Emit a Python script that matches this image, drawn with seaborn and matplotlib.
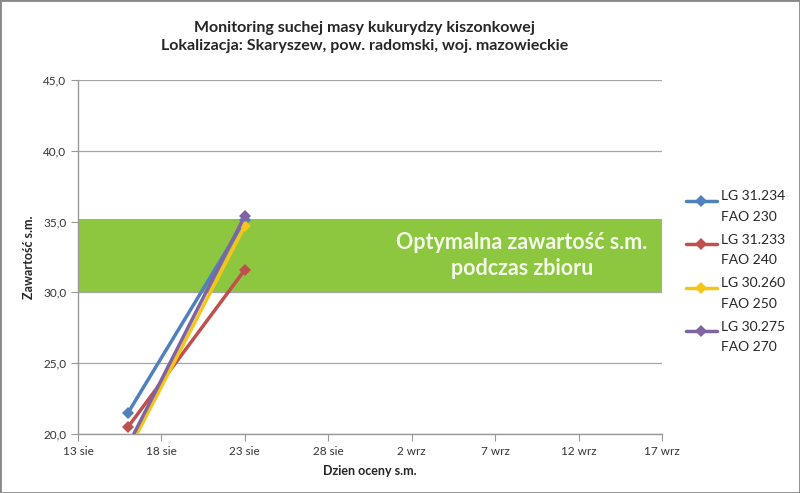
import matplotlib.pyplot as plt
import matplotlib as mpl
import numpy as np
import seaborn as sns
import pandas as pd

sns.set_style("white")
plt.rcParams['font.family'] = ['Lato', 'DejaVu Sans']

# dane
dates = ['2013-08-16', '2013-08-23']
lg_31234 = [21.5, 35.1]
lg_31233 = [20.5, 31.6]
lg_30260 = [18.8, 34.7]
lg_30275 = [19.2, 35.4]
names = ['LG 31.234\nFAO 230', 'LG 31.233\nFAO 240', 'LG 30.260\nFAO 250', 'LG 30.275\nFAO 270']
colors = ['#4F81BD', '#C0504D', '#F5C518', '#8064A2']

tick_dates = ['2013-08-13', '2013-08-18', '2013-08-23', '2013-08-28',
              '2013-09-02', '2013-09-07', '2013-09-12', '2013-09-17']
tick_labels = ['13 sie', '18 sie', '23 sie', '28 sie', '2 wrz', '7 wrz', '12 wrz', '17 wrz']
y_ticks = [20.0, 25.0, 30.0, 35.0, 40.0, 45.0]
band = [30.0, 35.2]

rows = []
for name, vals in zip(names, [lg_31234, lg_31233, lg_30260, lg_30275]):
    for d, v in zip(dates, vals):
        rows.append([pd.Timestamp(d), v, name])
df = pd.DataFrame(rows, columns=['Data', 'Zawartosc', 'Odmiana'])

fig = plt.figure(figsize=(8, 4.93), dpi=100)
ax = fig.add_axes([0.0975, 0.1197, 0.73, 0.718])

ax.axhspan(band[0], band[1], color='#8DC63F', zorder=2, lw=0)
ax.text(0.76, (band[0] + band[1]) / 2, 'Optymalna zawartość s.m.\npodczas zbioru',
        transform=ax.get_yaxis_transform(), color='#F4FAEA', fontsize=15.5, fontweight='bold',
        ha='center', va='center', zorder=3, linespacing=1.3)

sns.lineplot(data=df, x='Data', y='Zawartosc', hue='Odmiana', palette=colors, hue_order=names,
             marker='D', markersize=6, markeredgewidth=0, linewidth=2.5, ax=ax, zorder=4)

ax.set_xlim(pd.Timestamp(tick_dates[0]), pd.Timestamp(tick_dates[-1]))
ax.set_ylim(20, 45)
ax.set_xticks([pd.Timestamp(t) for t in tick_dates])
ax.set_xticklabels(tick_labels)
ax.set_yticks(y_ticks)
ax.set_yticklabels([f'{v:.1f}'.replace('.', ',') for v in y_ticks])

ax.yaxis.grid(True, color='#a6a6a6', lw=0.9, zorder=1)
ax.xaxis.grid(False)
ax.set_axisbelow(True)
for s in ['top', 'right']:
    ax.spines[s].set_visible(False)
for s in ['left', 'bottom']:
    ax.spines[s].set_color('#999999')
    ax.spines[s].set_linewidth(1)
ax.tick_params(axis='both', which='both', direction='out', length=5, color='#999999',
               labelsize=8.5, labelcolor='#333333', bottom=True, left=True)

ax.set_xlabel('Dzien oceny s.m.', fontsize=9, fontweight='bold', labelpad=6)
ax.set_ylabel('Zawartość s.m.', fontsize=9, fontweight='bold', labelpad=6)

fig.text(0.456, 0.925, 'Monitoring suchej masy kukurydzy kiszonkowej\nLokalizacja: Skaryszew, pow. radomski, woj. mazowieckie',
         ha='center', va='center', fontsize=11.5, fontweight='bold', linespacing=1.3)

handles, labels = ax.get_legend_handles_labels()
leg = ax.legend(handles, labels, loc='center left', bbox_to_anchor=(1.02, 0.455), frameon=False,
                fontsize=10, labelspacing=0.55, handlelength=2.2, handletextpad=0.3, handleheight=3.6)
for t in leg.get_texts():
    t.set_linespacing(1.85)

fig.patches.append(mpl.patches.Rectangle((0, 0), 1, 1, transform=fig.transFigure, fill=False,
                                         edgecolor='#888888', lw=2))

fig.savefig('out.png', dpi=100)
